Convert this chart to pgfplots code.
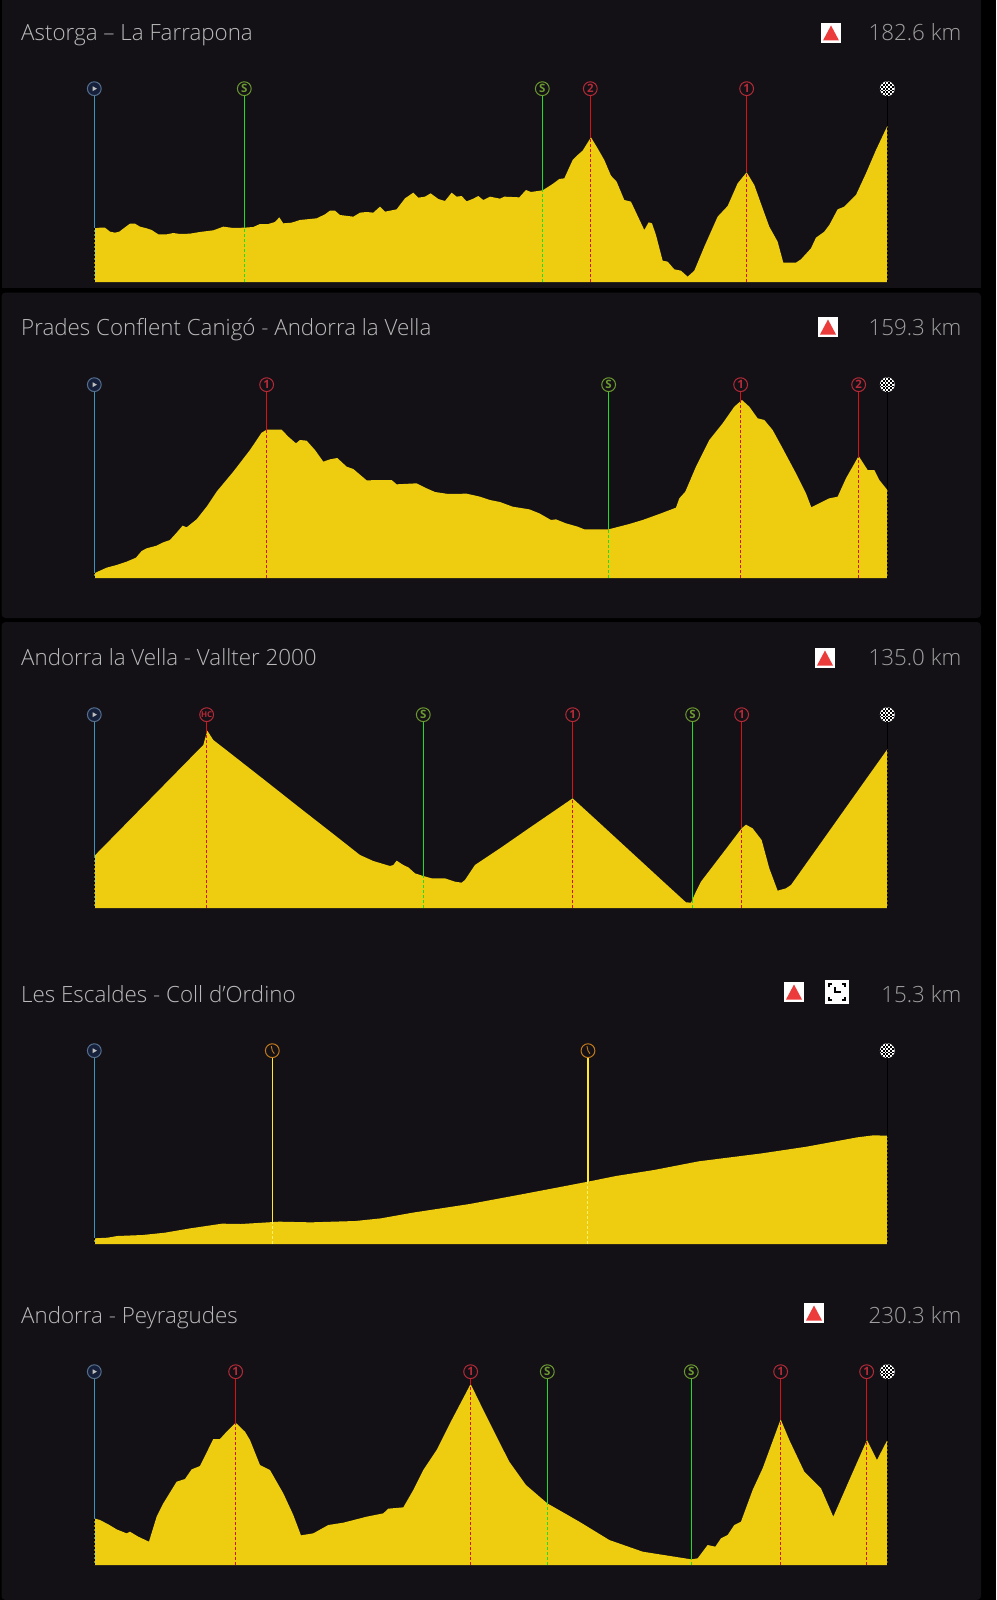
\documentclass[border=0pt]{standalone}
\usepackage{fontspec}
\setmainfont{Open Sans Light}
\newfontfamily\mk{Open Sans}
\usepackage{pgfplots}
\pgfplotsset{compat=1.18}
\definecolor{panel}{HTML}{131116}
\definecolor{profile}{HTML}{EECC10}
\definecolor{ttl}{HTML}{BABABA}
\definecolor{kmc}{HTML}{A0A0A0}
\definecolor{cBlue}{HTML}{3C94B8}
\definecolor{cBlueR}{HTML}{55708F}
\definecolor{cStartF}{HTML}{16203A}
\definecolor{cGreen}{HTML}{1FDC24}
\definecolor{cGreenR}{HTML}{6C9A30}
\definecolor{cRed}{HTML}{D81018}
\definecolor{cRedR}{HTML}{B42A38}
\definecolor{cYel}{HTML}{FFE92A}
\definecolor{cOrR}{HTML}{C47A1C}
\definecolor{cTri}{HTML}{EC3B3B}
\pgfdeclareplotmark{checker}{%
  \pgfscope
  \pgfsetfillcolor{white}\pgfpathcircle{\pgfpointorigin}{7.4pt}\pgfusepath{fill}
  \pgfpathcircle{\pgfpointorigin}{7.4pt}\pgfusepath{clip}
  \pgfsetfillcolor{black}
  \foreach \i in {-5,...,5}{\foreach \j in {-5,...,5}{%
    \pgfmathparse{int(mod(\i+\j+10,2))}%
    \ifnum\pgfmathresult=0
      \pgfpathrectangle{\pgfpoint{\i*1.8pt-0.9pt}{\j*1.8pt-0.9pt}}{\pgfpoint{1.8pt}{1.8pt}}\pgfusepath{fill}
    \fi}}
  \endpgfscope}
\pgfdeclareplotmark{play}{%
  \pgfpathmoveto{\pgfpoint{-1.6pt}{2.4pt}}\pgfpathlineto{\pgfpoint{2.6pt}{0pt}}\pgfpathlineto{\pgfpoint{-1.6pt}{-2.4pt}}\pgfpathclose\pgfusepath{fill}}
\pgfdeclareplotmark{hands}{%
  \pgfsetlinewidth{0.9pt}\pgfpathmoveto{\pgfpoint{-1pt}{4.5pt}}\pgfpathlineto{\pgfpoint{0pt}{0pt}}\pgfpathlineto{\pgfpoint{2pt}{-3pt}}\pgfusepath{stroke}}
\pgfplotsset{stage/.style={hide axis,scale only axis,width=793pt,height=193.333pt,xmin=0,xmax=2379,ymin=0,ymax=580,clip=false,anchor=south west},
  profilearea/.style={fill=profile,draw=none,mark=none}}
\newcommand{\stem}[3]{%
  \addplot[#3,line width=1.5pt,mark=none] coordinates {(#1,#2) (#1,558)};
  \addplot[#3,line width=1.4pt,mark=none,dash pattern=on 3pt off 2pt] coordinates {(#1,0) (#1,#2)};}
\newcommand{\ring}[3]{% x, colour, label
  \addplot[only marks,mark=o,mark size=6.9pt,mark options={draw=#2,line width=1pt}] coordinates {(#1,580)};
  \node[text=#2,font=\mk\bfseries\fontsize{11.5}{12}\selectfont,inner sep=0pt] at (axis cs:#1,580) {#3};}
\newcommand{\startm}{%
  \stem{0}{\startH}{cBlue}
  \addplot[black,line width=1.2pt,mark=none,dash pattern=on 2pt off 2pt] coordinates {(0,0) (0,\startH)};
  \addplot[only marks,mark=*,mark size=6.9pt,mark options={draw=cBlueR,fill=cStartF,line width=1pt}] coordinates {(0,580)};
  \addplot[only marks,mark=play,mark options={fill=white!75!black}] coordinates {(0,580)};}
\newcommand{\finish}[1]{%
  \addplot[black,line width=1.2pt,mark=none] coordinates {(2379,#1) (2379,558)};
  \addplot[black,line width=1.2pt,mark=none,dash pattern=on 2pt off 2pt] coordinates {(2379,0) (2379,#1)};
  \addplot[only marks,mark=checker] coordinates {(2379,580)};}
\newcommand{\climb}[3]{\stem{#1}{#2}{cRed}\ring{#1}{cRedR}{#3}}
\newcommand{\sprint}[2]{\stem{#1}{#2}{cGreen}\ring{#1}{cGreenR}{S}}
\newcommand{\timed}[2]{%
  \addplot[cYel,line width=1.1pt,mark=none] coordinates {(#1,#2) (#1,558)};
  \addplot[cYel!70!white,line width=1pt,mark=none,dash pattern=on 3pt off 2pt] coordinates {(#1,0) (#1,#2)};
  \ring{#1}{cOrR}{}
  \addplot[only marks,mark=hands,mark options={draw=cOrR}] coordinates {(#1,580)};}
\newcommand{\mountain}[2]{%
  \fill[white] (#1pt,-#2pt) rectangle ++(20pt,-20pt);
  \fill[cTri] (#1pt+2pt,-#2pt-17.5pt) -- ++(16pt,0) -- ++(-8pt,15pt) -- cycle;}
\newcommand{\ttlnode}[2]{\node[anchor=base west,inner sep=0pt,text=ttl,font=\fontsize{22.35}{24}\selectfont] at (21pt,-#1pt) {#2};}
\newcommand{\kmnode}[2]{\node[anchor=base east,inner sep=0pt,text=kmc,font=\fontsize{22.35}{24}\selectfont] at (961.5pt,-#1pt) {#2};}
\begin{document}
\begin{tikzpicture}
\path[use as bounding box] (0,0) rectangle (996pt,-1600pt);
\fill[black] (0,0) rectangle (996pt,-1600pt);
\fill[panel] (1.5pt,0) rectangle (981pt,-288pt);
\fill[panel,rounded corners=4pt] (1.5pt,-292.5pt) rectangle (981pt,-618pt);
\fill[panel,rounded corners=4pt] (1.5pt,-622pt) rectangle (981pt,-1600pt);
% ---------- stage 1
\begin{axis}[stage,at={(94.3pt,-282pt)}]
\addplot[profilearea] table {
x y
0 161
17 163
32 163
47 151
62 148
75 151
92 164
107 175
122 175
137 166
157 161
172 156
192 143
217 143
237 147
257 144
287 145
317 150
357 155
387 166
417 162
450 163
477 165
497 174
522 174
542 180
555 194
567 176
592 178
617 186
667 191
692 203
707 214
722 214
737 201
777 196
797 208
817 210
837 208
857 226
872 211
887 214
907 218
932 251
957 268
972 253
992 256
1009 266
1032 249
1052 243
1072 268
1087 256
1102 258
1117 242
1137 250
1152 258
1167 246
1187 256
1217 250
1230 256
1275 254
1295 276
1310 270
1345 275
1375 294
1395 309
1410 311
1435 366
1450 381
1465 394
1490 434
1510 401
1530 366
1550 319
1567 301
1590 246
1610 241
1650 156
1663 179
1673 176
1685 141
1705 64
1720 61
1740 38
1760 34
1780 16
1800 34
1830 106
1870 196
1900 228
1930 296
1957 329
1980 291
2005 221
2025 166
2050 121
2067 58
2105 58
2120 68
2150 101
2165 133
2190 151
2205 171
2230 218
2250 226
2285 261
2315 326
2345 396
2379 468
} \closedcycle;
\def\startH{161}\startm
\sprint{450}{163}
\sprint{1344}{275}
\climb{1488}{432}{2}
\climb{1957}{329}{1}
\finish{468}
\end{axis}
% ---------- stage 2
\begin{axis}[stage,at={(94.3pt,-578pt)}]
\addplot[profilearea] table {
x y
0 14
17 22
37 31
67 39
97 49
125 61
142 81
157 89
187 97
207 107
227 114
247 136
265 157
277 152
307 176
337 214
367 259
417 319
467 384
502 436
517 445
562 445
582 424
605 404
617 414
637 412
662 384
687 349
707 356
729 360
757 334
777 327
817 293
867 294
892 294
907 281
967 284
997 269
1022 258
1062 252
1117 253
1157 244
1187 234
1217 228
1255 214
1305 206
1335 194
1370 174
1385 176
1415 164
1450 154
1470 146
1543 146
1605 162
1645 174
1695 192
1745 211
1755 239
1773 259
1805 334
1845 414
1885 464
1920 514
1943 534
1965 514
1990 479
2010 474
2035 444
2065 389
2105 314
2135 254
2151 212
2205 239
2230 244
2255 299
2293 366
2320 324
2340 324
2355 294
2379 264
} \closedcycle;
\def\startH{14}\startm
\climb{517}{445}{1}
\sprint{1543}{146}
\climb{1939}{530}{1}
\climb{2293}{366}{2}
\finish{264}
\end{axis}
% ---------- stage 3
\begin{axis}[stage,at={(94.3pt,-908pt)}]
\addplot[profilearea] table {
x y
0 156
317 479
327 489
339 532
357 504
397 473
517 379
617 300
717 222
797 159
837 141
887 126
897 129
907 142
927 129
942 122
962 104
987 96
1012 89
1052 89
1082 79
1102 76
1112 84
1142 129
1217 179
1305 240
1435 329
1505 265
1605 173
1705 81
1775 17
1790 16
1805 49
1820 79
1885 164
1942 239
1955 250
1975 239
2002 204
2025 119
2050 52
2075 59
2090 69
2205 231
2305 372
2379 476
} \closedcycle;
\def\startH{156}\startm
\climb{337}{525}{{\fontsize{8}{8}\selectfont HC}}
\sprint{987}{96}
\climb{1435}{329}{1}
\sprint{1795}{27}
\climb{1942}{239}{1}
\finish{476}
\end{axis}
% ---------- stage 4
\begin{axis}[stage,at={(94.3pt,-1244pt)}]
\addplot[profilearea] table {
x y
0 17
40 19
69 24
145 27
212 34
288 47
383 61
440 60
555 67
650 65
783 69
860 77
955 94
1126 120
1298 152
1481 187
1565 204
1679 222
1813 248
2003 272
2137 292
2289 320
2337 326
2379 325
} \closedcycle;
\def\startH{17}\startm
\timed{534}{66}
\timed{1481}{187}
\finish{325}
\end{axis}
% ---------- stage 5
\begin{axis}[stage,at={(94.3pt,-1565pt)}]
\addplot[profilearea] table {
x y
0 140
17 135
42 122
67 107
97 95
107 100
132 85
164 70
187 145
207 185
247 250
272 258
292 287
317 297
357 378
377 378
397 400
424 427
452 400
467 375
497 300
527 285
567 215
597 150
620 89
657 95
702 120
747 127
817 145
867 155
882 169
927 173
957 225
987 285
1027 345
1067 425
1129 543
1167 465
1217 365
1245 310
1295 240
1359 185
1455 130
1545 75
1645 40
1791 17
1810 20
1840 60
1863 55
1880 80
1900 90
1920 120
1940 130
1975 225
2005 290
2059 437
2085 375
2130 280
2180 230
2217 145
2265 255
2318 375
2348 315
2379 375
} \closedcycle;
\def\startH{140}\startm
\climb{424}{427}{1}
\climb{1129}{543}{1}
\sprint{1359}{185}
\sprint{1791}{17}
\climb{2059}{437}{1}
\climb{2317}{375}{1}
\finish{375}
\end{axis}
% ---------- titles and icons
\ttlnode{40.5}{Astorga – La Farrapona}\kmnode{40.5}{182.6 km}\mountain{821}{23}
\ttlnode{335.5}{Prades Conflent Canigó - Andorra la Vella}\kmnode{335.5}{159.3 km}\mountain{818}{317}
\ttlnode{665.5}{Andorra la Vella - Vallter 2000}\kmnode{665.5}{135.0 km}\mountain{815}{648}
\ttlnode{1002}{Les Escaldes - Coll d'Ordino}\kmnode{1002}{15.3 km}\mountain{784}{982}
\ttlnode{1323}{Andorra - Peyragudes}\kmnode{1323}{230.3 km}\mountain{804}{1303}
% time-trial icon
\fill[white] (825pt,-980pt) rectangle (849pt,-1004pt);
\draw[black,line width=1.6pt] (829pt,-987pt) -- (829pt,-984pt) -- (832pt,-984pt)
  (842pt,-984pt) -- (845pt,-984pt) -- (845pt,-987pt)
  (829pt,-997pt) -- (829pt,-1000pt) -- (832pt,-1000pt)
  (842pt,-1000pt) -- (845pt,-1000pt) -- (845pt,-997pt)
  (835pt,-987pt) -- (835pt,-992pt) -- (841pt,-992pt);
\end{tikzpicture}
\end{document}
